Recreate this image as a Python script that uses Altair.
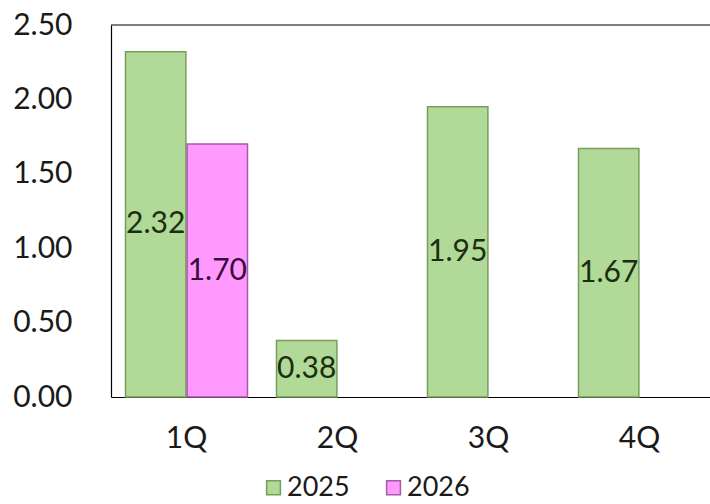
import altair as alt
import pandas as pd

quarters = ["1Q", "2Q", "3Q", "4Q"]
values_2025 = [2.32, 0.38, 1.95, 1.67]
values_2026 = [1.70, None, None, None]
years = ["2025", "2026"]
fills = ["#b1d997", "#ff99ff"]
strokes = ["#789d5c", "#a35ca3"]

rows = []
for q, a, b in zip(quarters, values_2025, values_2026):
    if a is not None:
        rows.append({"quarter": q, "year": "2025", "value": a})
    if b is not None:
        rows.append({"quarter": q, "year": "2026", "value": b})
df = pd.DataFrame(rows)

FONT = "Lato"
W, H = 599, 372

x = alt.X("quarter:N", sort=quarters, title=None,
          scale=alt.Scale(range=[0, 604], paddingInner=0.192, paddingOuter=0.096),
          axis=alt.Axis(labelAngle=0, labelFont=FONT, labelFontSize=30, labelColor="#1a1a1a",
                        ticks=False, domainColor="#000000", domainWidth=1.2, labelPadding=26))
xoff = alt.XOffset("year:N", sort=years, scale=alt.Scale(paddingInner=0.02))
yscale = alt.Scale(domain=[0, 2.5], nice=False)

base = alt.Chart(df)

bars = base.mark_bar(strokeWidth=1.5).encode(
    x=x,
    xOffset=xoff,
    y=alt.Y("value:Q", title=None, scale=yscale,
            axis=alt.Axis(values=[0, 0.5, 1.0, 1.5, 2.0, 2.5], format=".2f", grid=False, ticks=False,
                          labelFont=FONT, labelFontSize=30, labelColor="#1a1a1a",
                          domainColor="#000000", domainWidth=1.2, labelPadding=39)),
    fill=alt.Fill("year:N", sort=years, scale=alt.Scale(domain=years, range=fills),
                  legend=alt.Legend(title=None, orient="none", direction="horizontal",
                                    legendX=149, legendY=449, symbolType="square", symbolSize=190,
                                    symbolStrokeWidth=1.5, labelFont=FONT, labelFontSize=27,
                                    labelColor="#1a1a1a", columnPadding=30, labelOffset=0)),
    stroke=alt.Stroke("year:N", sort=years, scale=alt.Scale(domain=years, range=strokes), legend=None),
)

labels = base.mark_text(font=FONT, fontSize=30, align="center", baseline="middle").transform_calculate(
    mid="datum.value / 2"
).encode(
    x=x,
    xOffset=xoff,
    y=alt.Y("mid:Q", scale=yscale),
    text=alt.Text("value:Q", format=".2f"),
    color=alt.condition(alt.datum.year == "2025", alt.value("#1c2e10"), alt.value("#3a0c3a")),
)

top_rule = alt.Chart(pd.DataFrame({"a": [0]})).mark_rule(color="#000000", strokeWidth=1.2).encode(
    y=alt.value(0), x=alt.value(0), x2=alt.value(W)
)

chart = alt.layer(bars, labels, top_rule).properties(
    width=W, height=H,
    autosize=alt.AutoSizeParams(type="none"),
    padding={"left": 111, "top": 25, "right": 0, "bottom": 107},
    background="#ffffff",
).configure_view(stroke=None)

chart.save("out.html", embed_options={"renderer": "svg", "actions": False})
